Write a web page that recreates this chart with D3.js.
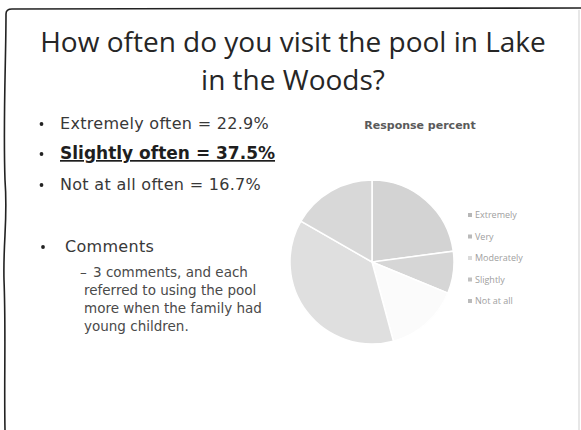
<!DOCTYPE html>
<meta charset="utf-8">
<style>
  html, body { margin: 0; padding: 0; background: #fff; overflow: hidden; }
  text { font-family: "DejaVu Sans", sans-serif; }
  .title { font-family: "Open Sans", sans-serif; font-size: 28px; fill: #262626; }
  .bullet { fill: #383838; font-size: 16px; letter-spacing: 0.3px; }
  .sub { fill: #4a4a4a; font-size: 13.5px; }
  .legend text { fill: #a0a0a0; font-size: 9px; font-family: "Open Sans", sans-serif; }
</style>
<body>
<svg width="581" height="430"></svg>
<script src="https://d3js.org/d3.v7.min.js"></script>
<script>

var categories = ["Extremely", "Very", "Moderately", "Slightly", "Not at all"];
var values = [22.9, 8.3, 14.6, 37.5, 16.7];
var colors = ["#d3d3d3", "#d6d6d6", "#fbfbfb", "#dfdfdf", "#d8d8d8"];

var bullets = ["Extremely often = 22.9%", "Slightly often = 37.5%", "Not at all often = 16.7%"];
var comment = ["3 comments, and each", "referred to using the pool", "more when the family had", "young children."];

var svg = d3.select("svg");

// slide frame (scanned edges)
svg.append("path")
    .attr("d", "M5,430 C4,380 6,330 4,280 C3,240 8,220 5,180 C3,120 6,60 6,14 Q6,9 12,9 L581,8")
    .attr("fill", "none")
    .attr("stroke", "#222")
    .attr("stroke-width", 1.6);
svg.append("line")
    .attr("x1", 579).attr("y1", 10).attr("x2", 579).attr("y2", 430)
    .attr("stroke", "#cfcfcf").attr("stroke-width", 1);

// title
svg.append("text").attr("class", "title")
    .attr("x", 293).attr("y", 52)
    .attr("text-anchor", "middle")
    .text("How often do you visit the pool in Lake");
svg.append("text").attr("class", "title")
    .attr("x", 293).attr("y", 90)
    .attr("text-anchor", "middle")
    .text("in the Woods?");

// bullet list
var by = [129, 159, 190];
bullets.forEach(function(b, i) {
  svg.append("circle").attr("cx", 41.5).attr("cy", by[i] - 5).attr("r", 1.9).attr("fill", "#222");
  var t = svg.append("text")
      .attr("class", "bullet")
      .attr("x", 60).attr("y", by[i])
      .text(b);
  if (i == 1) {
    t.style("font-weight", "bold").style("font-size", "17px").style("letter-spacing", "0px")
     .style("text-decoration", "underline").style("fill", "#1e1e1e");
  }
});

svg.append("circle").attr("cx", 43).attr("cy", 247).attr("r", 1.9).attr("fill", "#222");
svg.append("text").attr("class", "bullet").attr("x", 65).attr("y", 252).text("Comments");

svg.append("text").attr("class", "sub").attr("x", 80).attr("y", 277).text("–");
comment.forEach(function(c, i) {
  svg.append("text")
      .attr("class", "sub")
      .attr("x", i == 0 ? 93 : 84).attr("y", 277 + i * 18)
      .text(c);
});

// chart title
svg.append("text")
    .attr("x", 420).attr("y", 129)
    .attr("text-anchor", "middle")
    .style("font-size", "11px").style("font-weight", "bold").style("fill", "#5a5a5a")
    .text("Response percent");

// pie
var cx = 372, cy = 262, r = 82;
var pie = d3.pie().sort(null).value(function(d) { return d; });
var arc = d3.arc().innerRadius(0).outerRadius(r);
var color = d3.scaleOrdinal().domain(categories).range(colors);

svg.append("g")
    .attr("transform", "translate(" + cx + "," + cy + ")")
    .selectAll("path")
    .data(pie(values))
    .enter()
    .append("path")
      .attr("d", arc)
      .attr("fill", function(d, i) { return color(categories[i]); })
      .attr("stroke", "#fff")
      .attr("stroke-width", 1.5);

// legend
var ly = d3.scalePoint().domain(categories).range([218, 304]);
var legend = svg.append("g").attr("class", "legend")
    .selectAll("g")
    .data(categories)
    .enter()
    .append("g")
      .attr("transform", function(d) { return "translate(468," + ly(d) + ")"; });

legend.append("rect")
    .attr("x", 0).attr("y", -5)
    .attr("width", 4).attr("height", 4)
    .attr("fill", function(d) { return d3.color(color(d)).darker(0.4); });
legend.append("text")
    .attr("x", 7).attr("y", 0)
    .text(function(d) { return d; });

</script>
</body>
